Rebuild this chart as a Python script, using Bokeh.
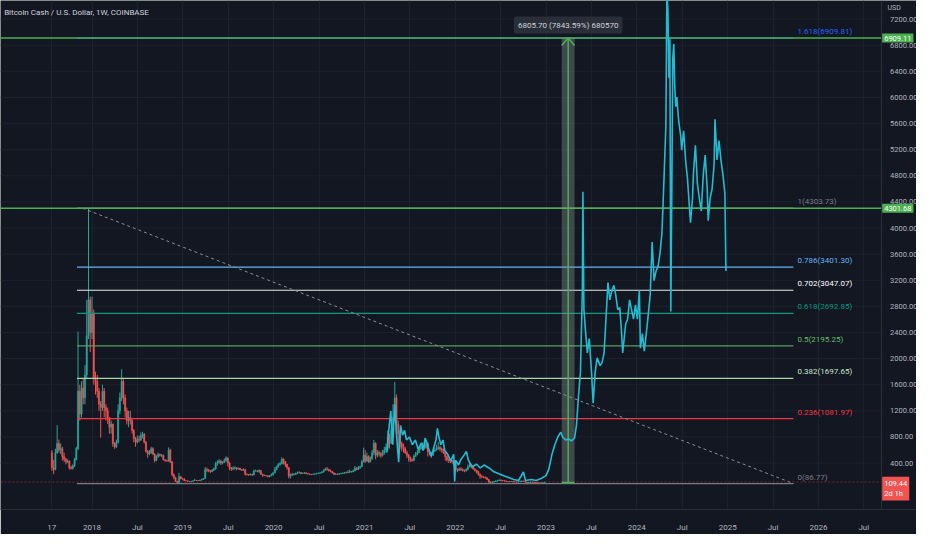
import pandas as pd
from bokeh.plotting import figure
from bokeh.models import Range1d, FixedTicker, PrintfTickFormatter, Label, LinearAxis
from bokeh.embed import file_html
from bokeh.resources import INLINE
from bokeh.core.properties import value

# ---------------- data ----------------
title_text = "Bitcoin Cash / U.S. Dollar, 1W, COINBASE"
candle_start = "2017-07-24"
first_open = 560
closes = [
    330, 300, 560, 700, 600, 620, 500, 460, 420, 430,
    330, 320, 360, 450, 620, 1500, 1150, 1550, 1400, 1750,
    2350, 2900, 2400, 2700, 1700, 1650, 1500, 1300, 1250, 1500,
    1250, 1200, 1100, 950, 1000, 700, 650, 720, 1200, 1400,
    1650, 1400, 1200, 1050, 1100, 1050, 900, 780, 720, 760,
    750, 820, 840, 720, 580, 540, 560, 620, 540, 440,
    500, 530, 520, 520, 450, 440, 430, 600, 420, 220,
    180, 120, 100, 190, 160, 155, 130, 128, 120, 118,
    122, 130, 135, 132, 130, 140, 150, 165, 300, 290,
    280, 270, 290, 310, 390, 410, 430, 400, 410, 440,
    480, 400, 330, 310, 320, 330, 310, 320, 300, 290,
    300, 230, 225, 220, 230, 220, 280, 280, 270, 290,
    230, 210, 210, 205, 190, 205, 220, 250, 300, 350,
    380, 390, 460, 420, 380, 330, 200, 220, 230, 225,
    240, 250, 255, 240, 245, 250, 240, 232, 228, 225,
    230, 232, 240, 245, 250, 262, 290, 310, 300, 285,
    270, 250, 230, 232, 228, 235, 240, 245, 255, 250,
    260, 270, 265, 280, 320, 300, 330, 345, 420, 520,
    430, 500, 420, 470, 560, 700, 520, 560, 540, 520,
    560, 600, 640, 800, 700, 900, 1100, 1400, 1000, 850,
    700, 650, 620, 560, 520, 480, 450, 440, 500, 540,
    560, 620, 640, 680, 640, 700, 580, 560, 520, 580,
    600, 620, 640, 620, 600, 560, 500, 450, 440, 430,
    420, 380, 300, 290, 310, 300, 290, 280, 300, 340,
    370, 340, 310, 290, 270, 230, 200, 190, 185, 175,
    150, 110, 105, 110, 115, 125, 130, 140, 135, 130,
    125, 118, 115, 118, 117, 112, 110, 108, 112, 118,
    125, 118, 110, 100, 105, 110, 108, 105, 100, 98,
    97, 96, 100, 109.44,
]
highs = [
    600, 450, 620, 980, 760, 700, 650, 560, 480, 460,
    440, 360, 380, 480, 650, 2414, 1600, 1650, 1700, 1900,
    2900, 4303.73, 2950, 2950, 2750, 1800, 1750, 1550, 1350, 1600,
    1550, 1300, 1250, 1100, 1050, 1000, 720, 760, 1300, 1480,
    1837, 1700, 1450, 1250, 1200, 1200, 1080, 920, 800, 820,
    820, 870, 880, 860, 740, 600, 600, 650, 640, 550,
    520, 560, 545, 540, 530, 460, 450, 640, 620, 430,
    240, 190, 130, 250, 200, 175, 170, 135, 130, 125,
    126, 135, 160, 140, 136, 145, 160, 170, 340, 330,
    310, 295, 310, 330, 420, 440, 460, 450, 430, 470,
    504, 480, 420, 340, 350, 350, 340, 330, 330, 310,
    320, 310, 240, 235, 240, 235, 300, 300, 290, 300,
    260, 235, 225, 215, 210, 215, 240, 260, 340, 360,
    400, 420, 489, 470, 430, 390, 340, 240, 250, 245,
    255, 270, 275, 260, 255, 262, 255, 245, 240, 232,
    240, 245, 250, 255, 262, 275, 305, 330, 340, 315,
    300, 275, 255, 245, 240, 245, 250, 258, 265, 270,
    290, 300, 280, 300, 355, 340, 355, 360, 450, 637,
    600, 560, 520, 500, 600, 755, 720, 600, 590, 570,
    600, 650, 700, 900, 850, 950, 1300, 1644, 1450, 1050,
    900, 730, 700, 650, 590, 540, 500, 470, 530, 570,
    600, 660, 690, 720, 700, 750, 720, 600, 570, 600,
    640, 680, 720, 660, 640, 620, 580, 520, 470, 460,
    450, 440, 390, 320, 330, 340, 320, 300, 320, 380,
    400, 380, 350, 320, 300, 280, 240, 210, 200, 190,
    180, 155, 120, 120, 125, 135, 145, 150, 150, 140,
    138, 130, 122, 125, 124, 120, 118, 115, 118, 130,
    135, 128, 122, 112, 112, 118, 115, 112, 108, 104,
    102, 100, 104, 112,
]
lows = [
    280, 230, 290, 540, 560, 540, 440, 420, 380, 400,
    300, 300, 300, 340, 440, 600, 1050, 1100, 1300, 1300,
    1700, 2300, 2100, 2300, 1600, 1450, 1400, 1200, 790, 1200,
    1100, 1050, 1000, 850, 850, 650, 620, 630, 700, 1150,
    1350, 1300, 1100, 990, 950, 990, 850, 720, 650, 700,
    720, 740, 780, 700, 560, 480, 520, 540, 520, 410,
    430, 480, 500, 490, 440, 420, 420, 420, 400, 200,
    150, 110, 86.77, 100, 150, 145, 125, 120, 115, 110,
    105, 118, 125, 125, 125, 128, 135, 145, 160, 260,
    260, 250, 260, 280, 300, 360, 390, 370, 380, 400,
    420, 350, 290, 280, 290, 300, 290, 300, 290, 280,
    280, 210, 210, 205, 210, 205, 210, 270, 260, 250,
    220, 190, 200, 195, 180, 185, 200, 210, 245, 290,
    330, 360, 380, 380, 340, 300, 163, 165, 200, 210,
    220, 235, 240, 230, 232, 238, 230, 225, 220, 215,
    220, 225, 228, 235, 240, 245, 258, 285, 285, 270,
    260, 240, 215, 220, 220, 222, 230, 235, 240, 245,
    245, 250, 255, 260, 275, 290, 295, 310, 340, 410,
    400, 420, 400, 410, 450, 520, 459, 490, 500, 480,
    500, 530, 560, 600, 620, 700, 870, 1050, 900, 600,
    620, 580, 560, 540, 480, 420, 420, 420, 430, 500,
    520, 550, 600, 620, 610, 620, 500, 520, 480, 510,
    570, 590, 600, 580, 560, 540, 440, 420, 400, 400,
    390, 360, 270, 260, 280, 280, 270, 260, 270, 290,
    330, 320, 300, 270, 240, 210, 160, 175, 170, 160,
    140, 90, 95, 100, 100, 110, 120, 125, 125, 120,
    118, 110, 108, 110, 110, 105, 105, 103, 104, 108,
    112, 110, 100, 95, 98, 100, 100, 98, 95, 94,
    93, 92, 94, 98,
]

# projected path (cyan "bars pattern" line): decimal year, price
pattern_t = [
    2021.247, 2021.268, 2021.290, 2021.312, 2021.333, 2021.355, 2021.377, 2021.398, 2021.420, 2021.442,
    2021.463, 2021.496, 2021.528, 2021.561, 2021.593, 2021.626, 2021.647, 2021.669, 2021.701, 2021.734,
    2021.755, 2021.788, 2021.804, 2021.820, 2021.842, 2021.864, 2021.885, 2021.918, 2021.950, 2021.983,
    2021.994, 2022.004, 2022.037, 2022.058, 2022.102, 2022.123, 2022.145, 2022.188, 2022.232, 2022.275,
    2022.318, 2022.372, 2022.426,
    2022.481, 2022.535, 2022.589, 2022.643, 2022.697, 2022.751, 2022.773, 2022.838, 2022.892, 2022.946,
    2023.000, 2023.032, 2023.065, 2023.097, 2023.130, 2023.162, 2023.184, 2023.216, 2023.249, 2023.281,
    2023.314, 2023.335, 2023.357, 2023.379, 2023.400, 2023.406, 2023.417, 2023.433, 2023.455, 2023.476,
    2023.498, 2023.519, 2023.541, 2023.563, 2023.595, 2023.617, 2023.639, 2023.660, 2023.682, 2023.703,
    2023.725, 2023.747, 2023.768, 2023.790, 2023.812, 2023.833, 2023.844, 2023.877, 2023.898, 2023.920,
    2023.942, 2023.963, 2023.985, 2024.006, 2024.028, 2024.039, 2024.061, 2024.082, 2024.104, 2024.126,
    2024.147, 2024.169, 2024.190, 2024.212, 2024.234, 2024.255, 2024.277, 2024.299, 2024.320, 2024.331,
    2024.342, 2024.353, 2024.364, 2024.374, 2024.385, 2024.396, 2024.407, 2024.418, 2024.429, 2024.440,
    2024.461, 2024.483, 2024.494, 2024.515, 2024.537, 2024.558, 2024.569, 2024.591, 2024.613, 2024.623,
    2024.645, 2024.667, 2024.688, 2024.710, 2024.732, 2024.753, 2024.775, 2024.786, 2024.807, 2024.829,
    2024.851, 2024.861, 2024.883, 2024.905, 2024.926, 2024.948, 2024.970, 2024.981,
]
pattern_p = [
    562, 902, 1198, 680, 1302, 799, 414, 976, 828, 902,
    754, 799, 680, 754, 606, 710, 592, 784, 651, 503,
    592, 754, 932, 799, 680, 754, 592, 533, 429, 533,
    118, 444, 370, 444, 533, 577, 444, 340, 385, 325,
    370, 325, 266,
    237, 207, 178, 148, 133, 266, 133, 148, 133, 163,
    207, 311, 533, 680, 799, 873, 799, 754, 769, 740,
    784, 976, 1420, 1790, 3047, 4556, 2751, 2456, 2086, 2308,
    1864, 1317, 1790, 2012, 1893, 1938, 2086, 2604, 3166, 2899,
    3047, 3121, 2973, 2751, 2781, 2382, 2086, 2530, 2604, 2899,
    2751, 2604, 2825, 2604, 3047, 2160, 2382, 2115, 2382, 2678,
    2973, 3787, 3195, 3343, 3417, 3609, 3935, 4749, 5562, 7650,
    7337, 6302, 6893, 2722, 4527, 6598, 6820, 6154, 5858, 6006,
    5636, 5414, 5192, 5488, 5044, 4749, 4527, 4083, 4453, 4822,
    5266, 4675, 4453, 4260, 4822, 5118, 4601, 4112, 4453, 4601,
    4970, 5666, 5044, 5340, 5044, 4822, 4527, 3343,
]

fib_ratios = [0, 0.236, 0.382, 0.5, 0.618, 0.702, 0.786, 1, 1.618]
fib_prices = [86.77, 1081.97, 1697.65, 2195.25, 2692.85, 3047.07, 3401.30, 4303.73, 6909.81]
fib_colors = ["#787b86", "#f23645", "#a5d6a7", "#5b9e5f", "#089981", "#e8e8e8", "#64b5f6", "#787b86", "#2962ff"]
fib_label_colors = ["#787b86", "#f23645", "#c8e6c9", "#66bb6a", "#089981", "#ffffff", "#64b5f6", "#787b86", "#2962ff"]
fib_t0, fib_t1 = 2017.834, 2025.724
trend_t = [2017.895, 2025.724]
trend_p = [4303.73, 86.77]

hline_prices = [6909.11, 4301.68]
last_price = 109.44
last_countdown = "2d 1h"

measure_t0, measure_t1, measure_tc = 2023.173, 2023.314, 2023.244
measure_p0, measure_p1 = 103.41, 6909.11
measure_text = "6805.70 (7843.59%) 680570"

price_ticks = [400, 800, 1200, 1600, 2000, 2400, 2800, 3200, 3600, 4000,
               4400, 4800, 5200, 5600, 6000, 6400, 6800, 7200]
time_ticks = [2017.556, 2018, 2018.5, 2019, 2019.5, 2020, 2020.5, 2021, 2021.5,
              2022, 2022.5, 2023, 2023.5, 2024, 2024.5, 2025, 2025.5, 2026, 2026.5]
time_labels = ["17", "2018", "Jul", "2019", "Jul", "2020", "Jul", "2021", "Jul",
               "2022", "Jul", "2023", "Jul", "2024", "Jul", "2025", "Jul", "2026", "Jul"]

# ---------------- styling ----------------
BG = "#131722"
GRID = "#1d212c"
TXT = "#b2b5be"
UP, DOWN = "#26a69a", "#ef5350"
GREEN = "#4caf50"
CYAN = "#22bcd2"
FONT = "Roboto"
X0, X_AX, X_END = 2016.992, 2026.690, 2027.080   # chart area ends at X_AX, price scale beyond
Y0, Y1 = -311, 7485

n = min(len(closes), len(highs), len(lows))
closes, highs, lows = closes[:n], highs[:n], lows[:n]
opens = [first_open] + closes[:-1]
dates = pd.date_range(candle_start, periods=n, freq="7D")
t = list(dates.year + (dates.dayofyear - 1) / 365.25)
ccol = [UP if c >= o else DOWN for o, c in zip(opens, closes)]
body_top = [max(o, c) for o, c in zip(opens, closes)]
body_bot = [min(o, c) for o, c in zip(opens, closes)]

p = figure(width=916, height=534, output_backend="svg", toolbar_location=None,
           x_range=Range1d(X0, X_END), y_range=Range1d(Y0, Y1),
           y_axis_location=None,
           background_fill_color=BG, border_fill_color=BG,
           min_border_left=0, min_border_top=0, min_border_right=0, min_border_bottom=22)
p.outline_line_color = None

p.xgrid.grid_line_color = GRID
p.ygrid.grid_line_color = None
# horizontal grid restricted to the chart area (not under the price scale)
p.segment(x0=[X0] * len(price_ticks), y0=price_ticks, x1=[X_AX] * len(price_ticks), y1=price_ticks,
          line_color=GRID, line_width=1)

yax = LinearAxis(fixed_location=X_AX, ticker=FixedTicker(ticks=price_ticks),
                 formatter=PrintfTickFormatter(format="%.2f"))
p.add_layout(yax, "right")
p.xaxis.ticker = FixedTicker(ticks=time_ticks)
p.xaxis.major_label_overrides = {tk: lb for tk, lb in zip(time_ticks, time_labels)}
for a in list(p.xaxis) + [yax]:
    a.axis_line_color = "#2a2e39"
    a.major_tick_line_color = None
    a.minor_tick_line_color = None
    a.major_label_text_color = TXT
    a.major_label_text_font = FONT
    a.major_label_text_font_size = "8px"
yax.major_label_text_font_size = "7.5px"
yax.major_label_standoff = 3
p.xaxis.major_label_standoff = 7

# last price line
p.segment(x0=[X0], y0=[last_price], x1=[X_AX], y1=[last_price],
          line_color="#f23645", line_alpha=0.45, line_width=1, line_dash="2 2")

# candles
p.segment(x0=t, y0=highs, x1=t, y1=lows, line_color=ccol, line_width=1)
p.vbar(x=t, top=body_top, bottom=body_bot, width=0.0135, fill_color=ccol, line_color=ccol, line_width=0.5)

# fib levels
p.segment(x0=[fib_t0] * len(fib_prices), y0=fib_prices, x1=[fib_t1] * len(fib_prices), y1=fib_prices,
          line_color=fib_colors, line_width=1.2)
fib_texts = [f"{r:g}({v:.2f})" for r, v in zip(fib_ratios, fib_prices)]
p.text(x=[fib_t1 + 0.045] * len(fib_prices), y=fib_prices, text=fib_texts,
       text_color=fib_label_colors, text_font=value(FONT), text_font_size="8px",
       text_align="left", text_baseline="bottom", y_offset=-2)
p.line(trend_t, trend_p, line_color="#8a8d96", line_width=1, line_dash="3 3")

# horizontal lines
p.segment(x0=[X0] * 2, y0=hline_prices, x1=[X_AX] * 2, y1=hline_prices, line_color=GREEN, line_width=1.5)

# measurement box
p.quad(left=[measure_t0], right=[measure_t1], bottom=[measure_p0], top=[measure_p1],
       fill_color="#8a9a94", fill_alpha=0.38, line_color=None)
p.segment(x0=[measure_tc], y0=[measure_p0], x1=[measure_tc], y1=[measure_p1], line_color=GREEN, line_width=1.5)
p.segment(x0=[measure_t0], y0=[measure_p0], x1=[measure_t1], y1=[measure_p0], line_color=GREEN, line_width=1.5)
p.line([measure_t0, measure_tc, measure_t1], [measure_p1 - 115, measure_p1, measure_p1 - 115],
       line_color=GREEN, line_width=1.5)

# projection path
p.line(pattern_t, pattern_p, line_color=CYAN, line_width=1.6)

# labels
p.add_layout(Label(x=X0 + 0.04, y=7308, text=title_text, text_color="#d1d4dc", text_font=FONT,
                   text_font_size="8px", text_baseline="middle", text_align="left"))
p.add_layout(Label(x=measure_tc, y=7108, text=measure_text, text_color="#d1d4dc", text_font=FONT,
                   text_font_size="8px", text_baseline="middle", text_align="center",
                   background_fill_color="#2a2e39", padding=4, border_radius=2))
for hp in hline_prices:
    p.add_layout(Label(x=X_AX + 0.012, y=hp, text=f"{hp:.2f}", text_color="#ffffff", text_font=FONT,
                       text_font_size="7.5px", text_baseline="middle", text_align="left",
                       background_fill_color=GREEN, padding=2))
p.add_layout(Label(x=X_AX + 0.012, y=192, text=f"{last_price:.2f}\n{last_countdown}", text_color="#ffffff",
                   text_font=FONT, text_font_size="7.5px", text_baseline="top", text_align="left",
                   background_fill_color="#f05350", padding=2))
p.add_layout(Label(x=X_AX + 0.07, y=7367, text="USD", text_color=TXT, text_font=FONT,
                   text_font_size="7px", text_baseline="middle", text_align="left"))

open("out.html", "w").write(file_html(p, INLINE))
